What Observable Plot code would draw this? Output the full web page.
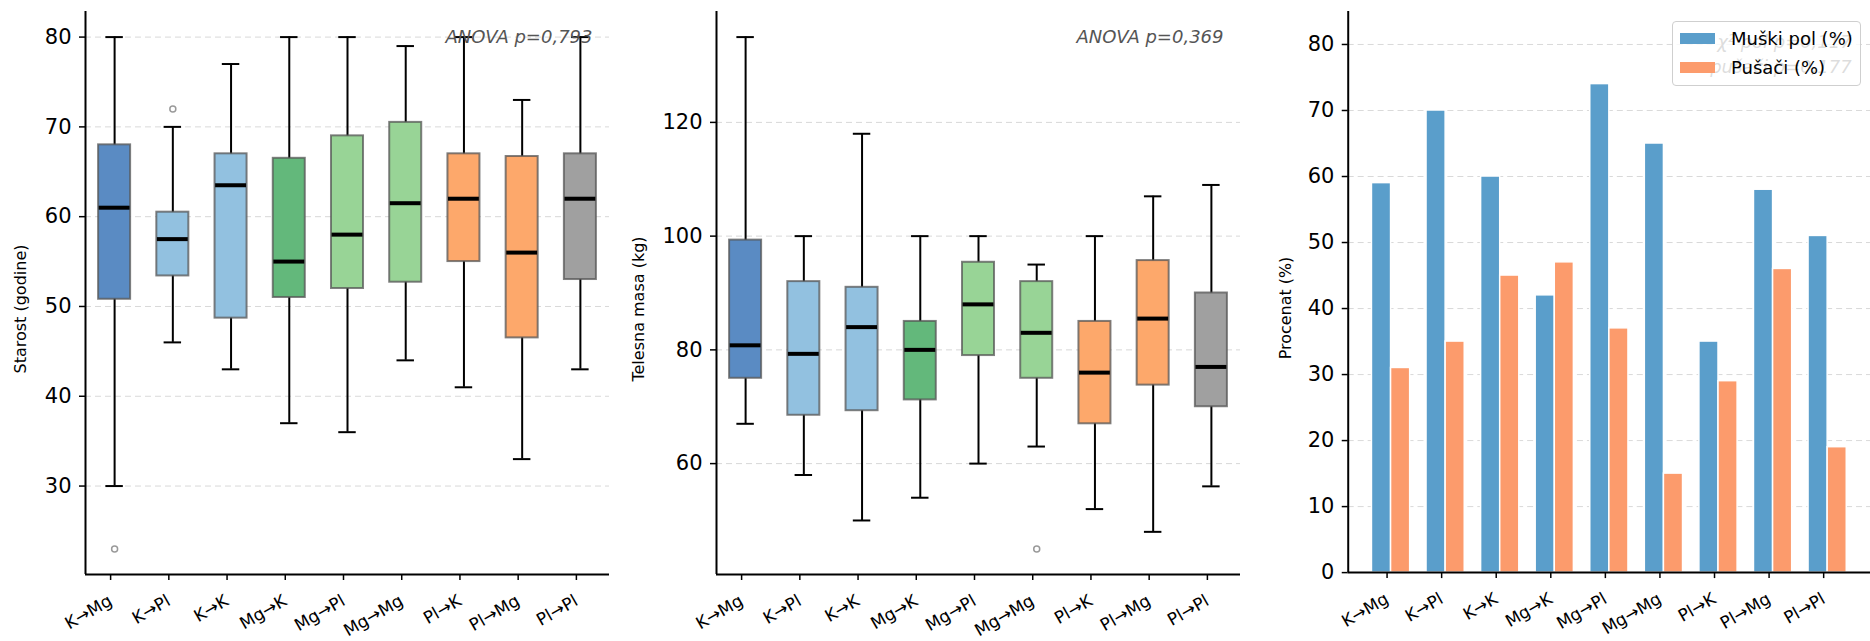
<!DOCTYPE html>
<html>
<head>
<meta charset="utf-8">
<script src="https://cdn.jsdelivr.net/npm/d3@7"></script>
<script src="https://cdn.jsdelivr.net/npm/@observablehq/plot@0.6"></script>
<style>
  html, body { margin: 0; padding: 0; background: #fff; }
  body { width: 1870px; height: 641px; overflow: hidden; position: relative; font-family: "DejaVu Sans", sans-serif; }
  .panel { position: absolute; top: 0; }
  .panel svg text { font-family: "DejaVu Sans", sans-serif; }
  .legend {
    position: absolute; left: 1672px; top: 21px; width: 187px; height: 63px;
    background: rgba(255,255,255,0.8); border: 1px solid #cfcfcf; border-radius: 4px;
    font-family: "DejaVu Sans", sans-serif; font-size: 18px; color: #000;
  }
  .legend .row { position: absolute; left: 7px; display: flex; align-items: center; white-space: nowrap; }
  .legend .sw { width: 35px; height: 11px; margin-right: 16px; }
</style>
</head>
<body>
<div id="p1" class="panel" style="left:0px"></div>
<div id="p2" class="panel" style="left:640px"></div>
<div id="p3" class="panel" style="left:1260px"></div>
<div class="legend">
  <div class="row" style="top:6px"><span class="sw" style="background:#5a9ecb"></span><span>Muški pol (%)</span></div>
  <div class="row" style="top:35px"><span class="sw" style="background:#fc9b6c"></span><span>Pušači (%)</span></div>
</div>
<script>
// Transition groups
const groups = ["K→Mg", "K→Pl", "K→K", "Mg→K", "Mg→Pl", "Mg→Mg", "Pl→K", "Pl→Mg", "Pl→Pl"];
const boxColors = ["#5a8bc3", "#92c1e0", "#92c1e0", "#63b87b", "#98d496", "#98d496", "#fda86b", "#fda86b", "#a0a0a0"];

// Age (years): whisker ends, quartiles, medians
const ageLow    = [30, 46, 43, 37, 36, 44, 41, 33, 43];
const ageQ1     = [50.8, 53.4, 48.7, 51, 52, 52.7, 55, 46.5, 53];
const ageMedian = [61, 57.5, 63.5, 55, 58, 61.5, 62, 56, 62];
const ageQ3     = [68, 60.5, 67, 66.5, 69, 70.5, 67, 66.7, 67];
const ageHigh   = [80, 70, 77, 80, 80, 79, 80, 73, 80];
const ageOutGroup = [0, 1];
const ageOutValue = [23, 72];
const ageTicks = [30, 40, 50, 60, 70, 80];

// Body mass (kg)
const massLow    = [67, 58, 50, 54, 60, 63, 52, 48, 56];
const massQ1     = [75, 68.5, 69.3, 71.2, 79, 75, 67, 73.8, 70];
const massMedian = [80.8, 79.3, 84, 80, 88, 83, 76, 85.5, 77];
const massQ3     = [99.3, 92, 91, 85, 95.4, 92, 85, 95.7, 90];
const massHigh   = [135, 100, 118, 100, 100, 95, 100, 107, 109];
const massOutGroup = [5];
const massOutValue = [45];
const massTicks = [60, 80, 100, 120];

// Share of men and smokers (%)
const malePct   = [59, 70, 60, 42, 74, 65, 35, 58, 51];
const smokerPct = [31, 35, 45, 47, 37, 15, 29, 46, 19];
const pctTicks = [0, 10, 20, 30, 40, 50, 60, 70, 80];

const FONT = "DejaVu Sans";

function yLabel(text, offset) {
  return Plot.text([text], {
    text: d => d, frameAnchor: "left", dx: -offset, dy: 16, rotate: -90,
    textAnchor: "middle", lineAnchor: "middle",
    fontSize: 16, fontFamily: FONT, fill: "#000"
  });
}

function xAxis(ticks) {
  return Plot.axisX(ticks, {
    tickFormat: i => groups[i], tickRotate: -30, tickSize: 6, tickPadding: 19,
    dx: -4, fontSize: 17, fontFamily: FONT, label: null, stroke: "#000", strokeWidth: 1.5, fill: "#000"
  });
}

function yAxis(ticks) {
  return Plot.axisY(ticks, {
    tickSize: 6, tickPadding: 8, fontSize: 21, fontFamily: FONT, label: null,
    stroke: "#000", strokeWidth: 1.5, fill: "#000", tickFormat: d => String(d)
  });
}

function boxPanel(o) {
  const rows = groups.map((g, i) => ({
    i, low: o.low[i], q1: o.q1[i], median: o.median[i], q3: o.q3[i], high: o.high[i], color: boxColors[i]
  }));
  const outliers = o.outGroup.map((g, k) => ({ i: g, v: o.outValue[k] }));
  const idx = d3.range(groups.length);
  return Plot.plot({
    width: o.width, height: 641,
    marginLeft: o.marginLeft, marginRight: o.marginRight, marginTop: 11, marginBottom: 67,
    style: { fontFamily: FONT, background: "transparent", overflow: "visible" },
    x: { domain: [-0.5, 8.5] },
    y: { domain: o.domain },
    color: { type: "identity" },
    marks: [
      Plot.gridY(o.ticks, { stroke: "#c8c8c8", strokeOpacity: 0.7, strokeWidth: 1, strokeDasharray: "6,4" }),
      Plot.ruleX(rows, { x: "i", y1: "low", y2: "high", stroke: "#000", strokeWidth: 2 }),
      Plot.ruleY(rows, { y: "low", x1: d => d.i - 0.15, x2: d => d.i + 0.15, stroke: "#000", strokeWidth: 2 }),
      Plot.ruleY(rows, { y: "high", x1: d => d.i - 0.15, x2: d => d.i + 0.15, stroke: "#000", strokeWidth: 2 }),
      Plot.rect(rows, {
        x1: d => d.i - 0.275, x2: d => d.i + 0.275, y1: "q1", y2: "q3",
        fill: "color", stroke: "#555", strokeOpacity: 0.75, strokeWidth: 2
      }),
      Plot.ruleY(rows, { y: "median", x1: d => d.i - 0.265, x2: d => d.i + 0.265, stroke: "#000", strokeWidth: 4 }),
      Plot.dot(outliers, { x: "i", y: "v", r: 3, stroke: "#9a9a9a", strokeWidth: 1.5, fill: "none" }),
      Plot.text([o.note], {
        text: d => d, frameAnchor: "top-right", dx: -17, dy: 26, textAnchor: "end", lineAnchor: "middle",
        fontSize: 18, fontFamily: FONT, fontStyle: "italic", fill: "#555"
      }),
      xAxis(idx),
      yAxis(o.ticks),
      yLabel(o.label, o.labelOffset),
      Plot.ruleX([-0.5], { stroke: "#000", strokeWidth: 2 }),
      Plot.ruleY([o.domain[0]], { stroke: "#000", strokeWidth: 2 })
    ]
  });
}

document.getElementById("p1").append(boxPanel({
  width: 640, marginLeft: 85, marginRight: 31,
  low: ageLow, q1: ageQ1, median: ageMedian, q3: ageQ3, high: ageHigh,
  outGroup: ageOutGroup, outValue: ageOutValue,
  domain: [20.15, 82.85], ticks: ageTicks,
  label: "Starost (godine)", labelOffset: 65, note: "ANOVA p=0,793"
}));

document.getElementById("p2").append(boxPanel({
  width: 620, marginLeft: 76, marginRight: 20,
  low: massLow, q1: massQ1, median: massMedian, q3: massQ3, high: massHigh,
  outGroup: massOutGroup, outValue: massOutValue,
  domain: [40.5, 139.5], ticks: massTicks,
  label: "Telesna masa (kg)", labelOffset: 78, note: "ANOVA p=0,369"
}));

// Grouped bars: share of men and smokers per transition group
const maleRows = groups.map((g, i) => ({ i, v: malePct[i] }));
const smokerRows = groups.map((g, i) => ({ i, v: smokerPct[i] }));
const barWidth = 0.35;

document.getElementById("p3").append(Plot.plot({
  width: 612, height: 641,
  marginLeft: 88, marginRight: 0, marginTop: 11, marginBottom: 67,
  style: { fontFamily: FONT, background: "transparent", overflow: "visible" },
  x: { domain: [-0.785, 8.785] },
  y: { domain: [0, 85] },
  marks: [
    Plot.gridY(pctTicks.slice(1), { stroke: "#c8c8c8", strokeOpacity: 0.7, strokeWidth: 1, strokeDasharray: "6,4" }),
    Plot.text(["χ² pol p=0,117\npušači p=0,177"], {
      text: d => d, frameAnchor: "top-right", dx: -19, dy: 19, textAnchor: "end", lineAnchor: "top",
      lineHeight: 1.39, fontSize: 18, fontFamily: FONT, fontStyle: "italic", fill: "#555"
    }),
    Plot.rect(maleRows, { x1: d => d.i - barWidth, x2: d => d.i, y1: d => 0, y2: "v", fill: "#5a9ecb", stroke: "#fff", strokeWidth: 1.5 }),
    Plot.rect(smokerRows, { x1: d => d.i, x2: d => d.i + barWidth, y1: d => 0, y2: "v", fill: "#fc9b6c", stroke: "#fff", strokeWidth: 1.5 }),
    xAxis(d3.range(groups.length)),
    yAxis(pctTicks),
    yLabel("Procenat (%)", 63),
    Plot.ruleX([-0.785], { stroke: "#000", strokeWidth: 2 }),
    Plot.ruleY([0], { stroke: "#000", strokeWidth: 2 })
  ]
}));
</script>
</body>
</html>
